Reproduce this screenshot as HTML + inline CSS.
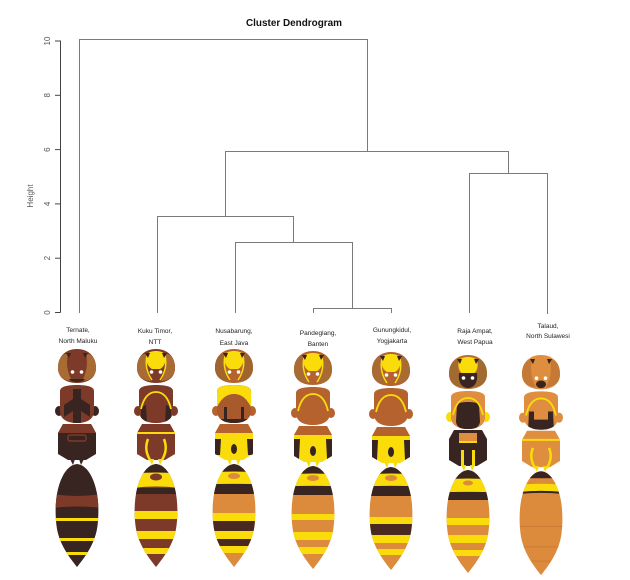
<!DOCTYPE html>
<html><head><meta charset="utf-8"><style>
html,body{margin:0;padding:0;background:#fff;}
svg{display:block;font-family:"Liberation Sans",sans-serif;}
</style></head><body>
<svg width="630" height="580" viewBox="0 0 630 580" xmlns="http://www.w3.org/2000/svg">
<defs>
<path id="hd" d="M-19,19 C-19,6 -10,0 0,0 C10,0 19,6 19,19 C19,29 11,34 0,34 C-11,34 -19,29 -19,19 Z"/>
<path id="ey" d="M-19,19 C-19,9 -14,4 -9,5 C-11,13 -10,23 -5,32 C-13,32 -19,27 -19,19 Z M19,19 C19,9 14,4 9,5 C11,13 10,23 5,32 C13,32 19,27 19,19 Z"/>
<path id="fc" d="M-9,5 C-5,1 5,1 9,5 C11,12 8,18 4,20 L-4,20 C-8,18 -11,12 -9,5 Z"/>
<path id="gn" d="M-9,7 C-11,15 -9,24 -4,31 M9,7 C11,15 9,24 4,31" fill="none" stroke-width="1.5"/>
<path id="at" d="M-11,4 L-6,4 L-8,9 Z M11,4 L6,4 L8,9 Z"/>
<g id="dt"><circle cx="-4.5" cy="23" r="1.8" fill="#fff"/><circle cx="4.5" cy="23" r="1.8" fill="#fff"/></g>
<path id="th" d="M-17,42 C-17,38 -11,36 0,36 C11,36 17,38 17,42 L17,62 C17,70 10,74 0,74 C-10,74 -17,70 -17,62 Z"/>
<path id="arc" d="M-15,60 C-12,47 -6,43 0,43 C6,43 12,47 15,60" fill="none" stroke-width="1.8"/>
<path id="lg" d="M-22,62 a4,5 0 1,0 8,0 a4,5 0 1,0 -8,0 Z M14,62 a4,5 0 1,0 8,0 a4,5 0 1,0 -8,0 Z"/>
<path id="pr" d="M-14,75 L14,75 L19,84 L19,105 L9,111 L-9,111 L-19,105 L-19,84 Z"/>
<path id="pt" d="M-14,75 L14,75 L19,84 L-19,84 Z"/>
<path id="sp" d="M-7,110 L-4,116 L-2,110 Z M7,110 L4,116 L2,110 Z"/>
<path id="gs" d="M0,115 C10,116 16,128 19,140 C22,152 22,168 20,180 C17,196 8,208 0,218 C-8,208 -17,196 -20,180 C-22,168 -22,152 -19,140 C-16,128 -10,116 0,115 Z"/>
<clipPath id="gc"><path d="M0,115 C10,116 16,128 19,140 C22,152 22,168 20,180 C17,196 8,208 0,218 C-8,208 -17,196 -20,180 C-22,168 -22,152 -19,140 C-16,128 -10,116 0,115 Z"/></clipPath>
<clipPath id="pc"><path d="M-14,75 L14,75 L19,84 L19,105 L9,111 L-9,111 L-19,105 L-19,84 Z"/></clipPath>
<clipPath id="tc"><path d="M-17,42 C-17,38 -11,36 0,36 C11,36 17,38 17,42 L17,62 C17,70 10,74 0,74 C-10,74 -17,70 -17,62 Z"/></clipPath>
</defs>

<!-- Title -->
<text x="294" y="26" font-size="10" font-weight="bold" text-anchor="middle" fill="#111" textLength="96" lengthAdjust="spacingAndGlyphs">Cluster Dendrogram</text>

<!-- Axis -->
<g stroke="#444" stroke-width="1" fill="none">
<line x1="60.5" y1="40.5" x2="60.5" y2="312.5"/>
<line x1="55" y1="312.5" x2="60.5" y2="312.5"/>
<line x1="55" y1="258.2" x2="60.5" y2="258.2"/>
<line x1="55" y1="203.9" x2="60.5" y2="203.9"/>
<line x1="55" y1="149.6" x2="60.5" y2="149.6"/>
<line x1="55" y1="95.3" x2="60.5" y2="95.3"/>
<line x1="55" y1="41" x2="60.5" y2="41"/>
</g>
<g font-size="8" fill="#555" text-anchor="middle">
<text transform="translate(50,312.5) rotate(-90)">0</text>
<text transform="translate(50,258.2) rotate(-90)">2</text>
<text transform="translate(50,203.9) rotate(-90)">4</text>
<text transform="translate(50,149.6) rotate(-90)">6</text>
<text transform="translate(50,95.3) rotate(-90)">8</text>
<text transform="translate(50,41) rotate(-90)">10</text>
<text transform="translate(33,196) rotate(-90)" font-size="8">Height</text>
</g>

<!-- Dendrogram -->
<g stroke="#7a7a7a" stroke-width="1" fill="none">
<path d="M79.5,313 V39.5 H367.5 V151.5"/>
<path d="M225.5,216.5 V151.5 H508.5 V173.5"/>
<path d="M157.5,313 V216.5 H293.5 V242.5"/>
<path d="M235.5,313 V242.5 H352.5 V308.5"/>
<path d="M313.5,313 V308.5 H391.5 V313"/>
<path d="M469.5,313 V173.5 H547.5 V314"/>
</g>

<!-- Labels -->
<g font-size="6.5" fill="#222" text-anchor="middle">
<text x="78" y="332">Ternate,</text><text x="78" y="343">North Maluku</text>
<text x="155" y="333">Kuku Timor,</text><text x="155" y="344">NTT</text>
<text x="234" y="333">Nusabarung,</text><text x="234" y="345">East  Java</text>
<text x="318" y="335">Pandeglang,</text><text x="318" y="346">Banten</text>
<text x="392" y="332">Gunungkidul,</text><text x="392" y="343">Yogjakarta</text>
<text x="475" y="333">Raja Ampat,</text><text x="475" y="344">West Papua</text>
<text x="548" y="328">Talaud,</text><text x="548" y="338">North Sulawesi</text>
</g>

<!-- Wasp 1: Ternate -->
<g transform="translate(77,349)">
<use href="#hd" fill="#7e3a28"/>
<use href="#ey" fill="#a86b34"/>
<path d="M-8,30 L8,30 C6,34 -6,34 -8,30 Z" fill="#382421"/>
<use href="#at" fill="#382421"/>
<use href="#dt"/>
<use href="#lg" fill="#382421"/>
<use href="#th" fill="#7e3a28"/>
<g clip-path="url(#tc)"><path d="M-4,40 L4,40 L4,50 L13,56 L13,68 L4,62 L4,76 L-4,76 L-4,62 L-13,68 L-13,56 L-4,50 Z" fill="#382421"/></g>
<use href="#pr" fill="#382421"/>
<use href="#pt" fill="#7e3a28"/>
<rect x="-9" y="86" width="18" height="6" rx="2" fill="none" stroke="#7e3a28" stroke-width="1.5"/>
<use href="#sp" fill="#382421"/>
<use href="#gs" fill="#382421"/>
<g clip-path="url(#gc)">
<path d="M-25,145 Q0,149 25,145 L25,159 Q0,156 -25,159 Z" fill="#7e3a28"/>
<rect x="-25" y="169" width="50" height="3" fill="#f9dc0a"/>
<rect x="-25" y="189" width="50" height="3" fill="#f9dc0a"/>
<rect x="-25" y="203" width="50" height="3" fill="#f9dc0a"/>
</g>
</g>

<!-- Wasp 2: Kuku Timor -->
<g transform="translate(156,349)">
<use href="#hd" fill="#7e3a28"/>
<use href="#ey" fill="#a86b34"/>
<use href="#fc" fill="#f9dc0a"/>
<use href="#gn" stroke="#f9dc0a"/>
<use href="#at" fill="#382421"/>
<use href="#dt"/>
<use href="#lg" fill="#7e3a28"/>
<use href="#th" fill="#7e3a28"/>
<g clip-path="url(#tc)"><path d="M-15,58 L-10,56 L-9,74 L-15,70 Z M15,58 L10,56 L9,74 L15,70 Z" fill="#382421"/></g>
<use href="#arc" stroke="#f9dc0a"/>
<use href="#pr" fill="#7e3a28"/>
<line x1="-19" y1="84" x2="19" y2="84" stroke="#f9dc0a" stroke-width="2"/>
<path d="M-8,90 C-11,98 -10,104 -6,111 M8,90 C11,98 10,104 6,111" fill="none" stroke="#f9dc0a" stroke-width="2.5"/>
<use href="#sp" fill="#f9dc0a"/>
<use href="#gs" fill="#7e3a28"/>
<g clip-path="url(#gc)">
<rect x="-25" y="115" width="50" height="10" fill="#382421"/>
<path d="M-25,125 Q0,122 25,125 L25,139 Q0,136 -25,139 Z" fill="#f9dc0a"/>
<ellipse cx="0" cy="128" rx="6" ry="3.5" fill="#7e3a28"/>
<rect x="-25" y="139" width="50" height="6" fill="#382421"/>
<rect x="-25" y="162" width="50" height="8" fill="#f9dc0a"/>
<rect x="-25" y="182" width="50" height="8" fill="#f9dc0a"/>
<rect x="-25" y="199" width="50" height="6" fill="#f9dc0a"/>
</g>
</g>

<!-- Wasp 3: Nusabarung -->
<g transform="translate(234,349)">
<use href="#hd" fill="#b5622e"/>
<use href="#ey" fill="#a0652f"/>
<use href="#fc" fill="#f9dc0a"/>
<use href="#gn" stroke="#f9dc0a"/>
<use href="#at" fill="#382421"/>
<use href="#dt"/>
<use href="#lg" fill="#b5622e"/>
<use href="#th" fill="#a95a2d"/>
<g clip-path="url(#tc)">
<path d="M-17,42 C-17,38 -11,36 0,36 C11,36 17,38 17,42 L17,58 C12,48 6,45 0,45 C-6,45 -12,48 -17,58 Z" fill="#f9dc0a"/>
<rect x="-10" y="58" width="3" height="16" fill="#382421"/>
<rect x="7" y="58" width="3" height="16" fill="#382421"/>
<rect x="-17" y="70" width="34" height="5" fill="#382421"/>
</g>
<use href="#pr" fill="#f9dc0a"/>
<use href="#pt" fill="#b5622e"/>
<g clip-path="url(#pc)">
<path d="M-20,90 L-13,90 L-14,106 L-20,106 Z M20,90 L13,90 L14,106 L20,106 Z" fill="#382421"/>
<ellipse cx="0" cy="100" rx="3" ry="5" fill="#382421"/>
</g>
<use href="#sp" fill="#f9dc0a"/>
<use href="#gs" fill="#dc8a3c"/>
<g clip-path="url(#gc)">
<rect x="-25" y="115" width="50" height="9" fill="#382421"/>
<path d="M-25,124 Q0,121 25,124 L25,136 Q0,133 -25,136 Z" fill="#f9dc0a"/>
<ellipse cx="0" cy="127" rx="6" ry="3" fill="#dc8a3c"/>
<rect x="-25" y="135" width="50" height="10" fill="#382421"/>
<rect x="-25" y="164" width="50" height="8" fill="#f9dc0a"/>
<rect x="-25" y="172" width="50" height="10" fill="#4a2a20"/>
<rect x="-25" y="182" width="50" height="8" fill="#f9dc0a"/>
<rect x="-25" y="190" width="50" height="7" fill="#4a2a20"/>
<rect x="-25" y="197" width="50" height="7" fill="#f9dc0a"/>
</g>
</g>

<!-- Wasp 4: Pandeglang -->
<g transform="translate(313,351)">
<use href="#hd" fill="#b5622e"/>
<use href="#ey" fill="#a86b34"/>
<use href="#fc" fill="#f9dc0a"/>
<use href="#gn" stroke="#f9dc0a"/>
<use href="#at" fill="#382421"/>
<use href="#dt"/>
<use href="#lg" fill="#b5622e"/>
<use href="#th" fill="#b5622e"/>
<use href="#arc" stroke="#f9dc0a"/>
<use href="#pr" fill="#f9dc0a"/>
<use href="#pt" fill="#b5622e"/>
<g clip-path="url(#pc)">
<path d="M-20,88 L-13,88 L-14,108 L-20,108 Z M20,88 L13,88 L14,108 L20,108 Z" fill="#382421"/>
<ellipse cx="0" cy="100" rx="3" ry="5" fill="#382421"/>
</g>
<use href="#sp" fill="#f9dc0a"/>
<use href="#gs" fill="#dc8a3c"/>
<g clip-path="url(#gc)">
<rect x="-25" y="115" width="50" height="9" fill="#382421"/>
<path d="M-25,124 Q0,121 25,124 L25,136 Q0,133 -25,136 Z" fill="#f9dc0a"/>
<ellipse cx="0" cy="127" rx="6" ry="3" fill="#dc8a3c"/>
<rect x="-25" y="135" width="50" height="9" fill="#382421"/>
<rect x="-25" y="163" width="50" height="6" fill="#f9dc0a"/>
<rect x="-25" y="181" width="50" height="8" fill="#f9dc0a"/>
<rect x="-25" y="196" width="50" height="7" fill="#f9dc0a"/>
</g>
</g>

<!-- Wasp 5: Gunungkidul -->
<g transform="translate(391,352)">
<use href="#hd" fill="#b5622e"/>
<use href="#ey" fill="#a86b34"/>
<use href="#fc" fill="#f9dc0a"/>
<use href="#gn" stroke="#f9dc0a"/>
<use href="#at" fill="#382421"/>
<use href="#dt"/>
<use href="#lg" fill="#b5622e"/>
<use href="#th" fill="#b5622e"/>
<use href="#arc" stroke="#f9dc0a"/>
<use href="#pr" fill="#f9dc0a"/>
<use href="#pt" fill="#b5622e"/>
<g clip-path="url(#pc)">
<path d="M-20,88 L-13,88 L-14,108 L-20,108 Z M20,88 L13,88 L14,108 L20,108 Z" fill="#382421"/>
<ellipse cx="0" cy="100" rx="3" ry="5" fill="#382421"/>
</g>
<use href="#sp" fill="#f9dc0a"/>
<use href="#gs" fill="#dc8a3c"/>
<g clip-path="url(#gc)">
<rect x="-25" y="115" width="50" height="8" fill="#382421"/>
<path d="M-25,123 Q0,120 25,123 L25,135 Q0,132 -25,135 Z" fill="#f9dc0a"/>
<ellipse cx="0" cy="126" rx="6" ry="3" fill="#dc8a3c"/>
<rect x="-25" y="134" width="50" height="10" fill="#382421"/>
<rect x="-25" y="165" width="50" height="7" fill="#f9dc0a"/>
<rect x="-25" y="172" width="50" height="11" fill="#4a2a20"/>
<rect x="-25" y="183" width="50" height="8" fill="#f9dc0a"/>
<rect x="-25" y="197" width="50" height="6" fill="#f9dc0a"/>
</g>
</g>

<!-- Wasp 6: Raja Ampat -->
<g transform="translate(468,355)">
<use href="#hd" fill="#b86e30"/>
<use href="#ey" fill="#a06a30"/>
<use href="#fc" fill="#f9dc0a"/>
<path d="M-9,18 L9,18 C10,26 7,33 0,33 C-7,33 -10,26 -9,18 Z" fill="#382421"/>
<use href="#at" fill="#382421"/>
<use href="#dt"/>
<use href="#lg" fill="#f9dc0a"/>
<use href="#th" fill="#df8d3e"/>
<g clip-path="url(#tc)"><path d="M-11,50 C-11,46 11,46 11,50 L12,66 C12,72 6,75 0,75 C-6,75 -12,72 -12,66 Z" fill="#382421"/></g>
<use href="#arc" stroke="#f9dc0a"/>
<use href="#pr" fill="#382421"/>
<rect x="-9" y="78" width="18" height="9" fill="#df8d3e"/>
<line x1="-9" y1="87" x2="9" y2="87" stroke="#f9dc0a" stroke-width="2"/>
<path d="M-7,95 L-4,95 L-4,111 L-7,111 Z M7,95 L4,95 L4,111 L7,111 Z" fill="#f9dc0a"/>
<use href="#sp" fill="#f9dc0a"/>
<use href="#gs" fill="#dc8a3c"/>
<g clip-path="url(#gc)">
<rect x="-25" y="115" width="50" height="10" fill="#382421"/>
<path d="M-25,125 Q0,122 25,125 L25,138 Q0,135 -25,138 Z" fill="#f9dc0a"/>
<ellipse cx="0" cy="128" rx="5" ry="2.5" fill="#dc8a3c"/>
<rect x="-25" y="137" width="50" height="8" fill="#382421"/>
<rect x="-25" y="163" width="50" height="7" fill="#f9dc0a"/>
<rect x="-25" y="180" width="50" height="8" fill="#f9dc0a"/>
<rect x="-25" y="195" width="50" height="6" fill="#f9dc0a"/>
</g>
</g>

<!-- Wasp 7: Talaud -->
<g transform="translate(541,355) scale(1,1.01)">
<use href="#hd" fill="#df8d3e"/>
<use href="#ey" fill="#c47a36"/>
<use href="#at" fill="#382421"/>
<ellipse cx="0" cy="29" rx="5" ry="3.8" fill="#382421"/>
<use href="#dt"/>
<use href="#lg" fill="#df8d3e"/>
<use href="#th" fill="#df8d3e"/>
<g clip-path="url(#tc)"><path d="M-12,56 L-7,56 L-7,64 L7,64 L7,56 L12,56 L13,76 L-13,76 Z" fill="#382421"/></g>
<use href="#arc" stroke="#f9dc0a"/>
<use href="#pr" fill="#df8d3e"/>
<line x1="-19" y1="84" x2="19" y2="84" stroke="#f9dc0a" stroke-width="2"/>
<path d="M-8,92 C-11,99 -10,105 -6,112 M8,92 C11,99 10,105 6,112" fill="none" stroke="#f9dc0a" stroke-width="2.5"/>
<use href="#sp" fill="#f9dc0a"/>
<use href="#gs" fill="#dc8a3c"/>
<g clip-path="url(#gc)">
<rect x="-25" y="115" width="50" height="7" fill="#382421"/>
<path d="M-25,129 Q0,126 25,129 L25,136 Q0,133 -25,136 Z" fill="#f9dc0a"/>
<path d="M-25,136 Q0,133 25,136 L25,138 Q0,135 -25,138 Z" fill="#382421"/>
<line x1="-25" y1="170" x2="25" y2="170" stroke="#c07030" stroke-width="0.6"/>
<line x1="-25" y1="190" x2="25" y2="190" stroke="#c07030" stroke-width="0.6"/>
<line x1="-25" y1="204" x2="25" y2="204" stroke="#c07030" stroke-width="0.6"/>
</g>
</g>
</svg>
</body></html>
